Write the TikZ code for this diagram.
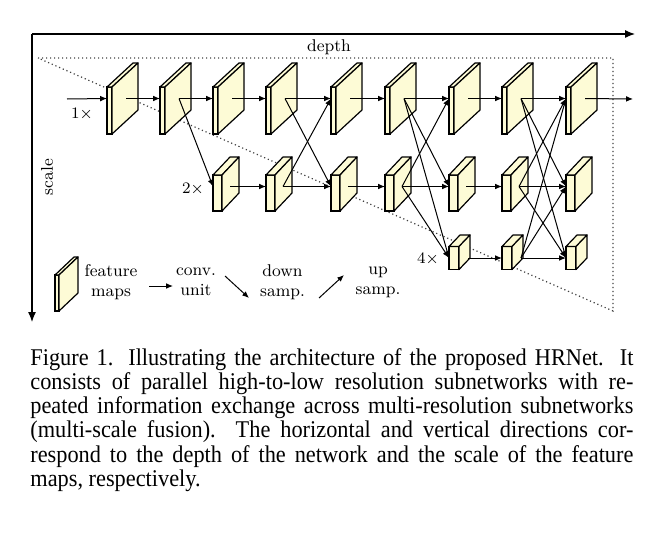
\documentclass[tikz,border=0pt]{standalone}
\usepackage{fontspec}
\newfontfamily\capfont{Liberation Serif}[FakeStretch=0.93]
\usepackage{tikz}
\usetikzlibrary{arrows.meta, calc}
\definecolor{mapyellow}{RGB}{253,251,214}

\begin{document}
\begin{tikzpicture}[
    x=0.5pt, y=-0.5pt,
    every node/.style={font=\fontsize{8.5}{10}\selectfont},
    fmap/.style={rectangle, draw, fill=mapyellow, line width=0.6pt, inner sep=0pt, outer sep=0pt, anchor=north west},
    fmtop/.style={fmap, minimum width=2.5pt, minimum height=23.5pt},
    fmmid/.style={fmap, minimum width=4.5pt, minimum height=18pt},
    fmlow/.style={fmap, minimum width=5pt, minimum height=11.5pt},
    fmkey/.style={fmap, minimum width=2pt, minimum height=18pt},
    face/.style={draw, fill=mapyellow, line width=0.6pt, line join=round},
    conv/.style={-{Latex[length=3.4pt, width=2.8pt]}, line width=0.5pt},
    axis/.style={-{Latex[length=5pt, width=4pt]}, line width=0.6pt},
    guide/.style={line width=0.6pt, black!75, dash pattern=on 0.6pt off 1.4pt},
    caption/.style={font=\capfont\fontsize{12}{12.1}\selectfont, align=left, inner sep=0pt, anchor=north west},
]
\useasboundingbox (0,0) rectangle (662,535);

% axes and dotted guide
\coordinate (origin) at (32,34);
\coordinate (depthend) at (635,34);
\coordinate (scaleend) at (32,322);
\draw[axis] (origin) -- (depthend);
\draw[axis] (origin) -- (scaleend);
\node (depth) at (329,47) {depth};
\node[rotate=90] (scale) at (47,177) {scale};
\coordinate (g1) at (38,58);
\coordinate (g2) at (613,58);
\coordinate (g3) at (613,311);
\draw[guide] (g1) -- (g2) -- (g3) -- cycle;

% feature maps (front faces)
\node[fmtop] (t1) at (107,87) {};
\node[fmtop] (t2) at (160,87) {};
\node[fmtop] (t3) at (213,87) {};
\node[fmtop] (t4) at (266,87) {};
\node[fmtop] (t5) at (331,87) {};
\node[fmtop] (t6) at (385,87) {};
\node[fmtop] (t7) at (449,87) {};
\node[fmtop] (t8) at (502,87) {};
\node[fmtop] (t9) at (566,87) {};
\node[fmmid] (m3) at (213,175) {};
\node[fmmid] (m4) at (266,175) {};
\node[fmmid] (m5) at (331,175) {};
\node[fmmid] (m6) at (385,175) {};
\node[fmmid] (m7) at (449,175) {};
\node[fmmid] (m8) at (502,175) {};
\node[fmmid] (m9) at (566,175) {};
\node[fmlow] (b7) at (449,246.5) {};
\node[fmlow] (b8) at (502,246.5) {};
\node[fmlow] (b9) at (566,246.5) {};
\node[fmkey] (key) at (55,275) {};

% top and side faces
\foreach \n/\dx/\dy/\sx in {t1/26/-24/19, t2/26/-24/19, t3/26/-24/19, t4/26/-24/19, t5/26/-24/19,
    t6/26/-24/19, t7/26/-24/19, t8/26/-24/19, t9/26/-24/19,
    m3/17/-18/17, m4/17/-18/17, m5/17/-18/17, m6/17/-18/17, m7/17/-18/17, m8/17/-18/17, m9/17/-18/17,
    b7/11/-11.5/19, b8/11/-11.5/19, b9/11/-11.5/19, key/19/-18/10} {
  \draw[face] (\n.north west) -- ++(\dx,\dy) -- ($(\n.north east)+(\dx,\dy)$) -- (\n.north east) -- cycle;
  \draw[face] (\n.north east) -- ++(\dx,\dy) -- ($(\n.south east)+(\dx,\dy)$) -- (\n.south east) -- cycle;
  \coordinate (\n-in) at ($(\n.north west)+(0,11.5)$);
  \coordinate (\n-out) at ($(\n.north west)+(\sx,11.5)$);
}

% conv. units
\coordinate (inp) at (67,99);
\coordinate (outp) at (633,99);
\draw[conv] (inp) -- (t1-in);
\draw[conv] (t1-out) -- (t2-in);
\draw[conv] (t2-out) -- (t3-in);
\draw[conv] (t3-out) -- (t4-in);
\draw[conv] (t4-out) -- (t5-in);
\draw[conv] (t5-out) -- (t6-in);
\draw[conv] (t6-out) -- (t7-in);
\draw[conv] (t7-out) -- (t8-in);
\draw[conv] (t8-out) -- (t9-in);
\draw[conv] (t9-out) -- (outp);
\draw[conv] (m3-out) -- (m4-in);
\draw[conv] (m4-out) -- (m5-in);
\draw[conv] (m5-out) -- (m6-in);
\draw[conv] (m6-out) -- (m7-in);
\draw[conv] (m7-out) -- (m8-in);
\draw[conv] (m8-out) -- (m9-in);
\draw[conv] (b7-out) -- (b8-in);
\draw[conv] (b8-out) -- (b9-in);

% down and up sampling
\draw[conv] (t2-out) -- (m3-in);
\draw[conv] (t4-out) -- (m5-in);
\draw[conv] (m4-out) -- (t5-in);
\draw[conv] (t6-out) -- (m7-in);
\draw[conv] (t6-out) -- (b7-in);
\draw[conv] (m6-out) -- (t7-in);
\draw[conv] (m6-out) -- (b7-in);
\draw[conv] (t8-out) -- (m9-in);
\draw[conv] (t8-out) -- (b9-in);
\draw[conv] (m8-out) -- (t9-in);
\draw[conv] (m8-out) -- (b9-in);
\draw[conv] (b8-out) -- (t9-in);
\draw[conv] (b8-out) -- (m9-in);

\node (s1) at (82,114) {$1\times$};
\node (s2) at (193,189) {$2\times$};
\node (s4) at (428,259) {$4\times$};

% legend
\node[align=center] (lfeat) at (111,282) {feature\\maps};
\node[align=center] (lconv) at (196,282) {conv.\\unit};
\node[align=center] (ldown) at (282.5,282) {down\\samp.};
\node[align=center] (lup) at (378,282) {up\\samp.};
\coordinate (c1) at (149,286);
\coordinate (c2) at (173,286);
\coordinate (d1) at (225,276);
\coordinate (d2) at (249,298);
\coordinate (u1) at (319,298);
\coordinate (u2) at (344,275);
\draw[conv] (c1) -- (c2);
\draw[conv] (d1) -- (d2);
\draw[conv] (u1) -- (u2);

% caption
\node[caption] (cap) at (30,348) {%
\makebox[301.5pt][s]{Figure 1. Illustrating the architecture of the proposed HRNet.\ \ It}\\
\makebox[301.5pt][s]{consists of parallel high-to-low resolution subnetworks with re-}\\
\makebox[301.5pt][s]{peated information exchange across multi-resolution subnetworks}\\
\makebox[301.5pt][s]{(multi-scale fusion).\ \ The horizontal and vertical directions cor-}\\
\makebox[301.5pt][s]{respond to the depth of the network and the scale of the feature}\\
maps, respectively.};

\end{tikzpicture}
\end{document}
